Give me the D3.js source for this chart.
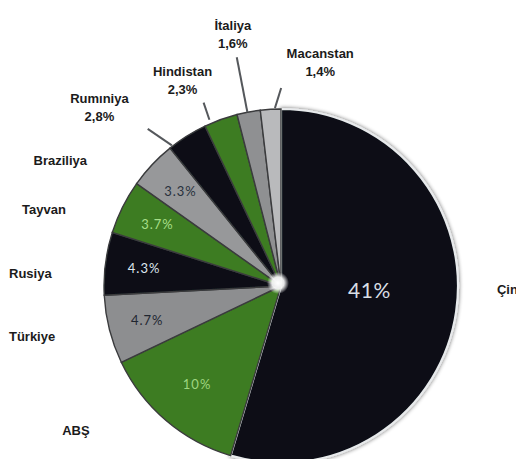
<!DOCTYPE html>
<html><head><meta charset="utf-8">
<script src="https://cdn.jsdelivr.net/npm/d3@7/dist/d3.min.js"></script>
<style>html,body{margin:0;padding:0;background:#fff;overflow:hidden}</style>
</head><body>
<script>
const categories = ["Çin","ABŞ","Türkiye","Rusiya","Tayvan","Braziliya","Rumıniya","Hindistan","İtaliya","Macanstan"];
const values = [41,10,4.7,4.3,3.7,3.3,2.8,2.3,1.6,1.4];
const insideLabelled = ["Çin","ABŞ","Türkiye","Rusiya","Tayvan","Braziliya"];
const outsideWithValue = ["Rumıniya","Hindistan","İtaliya","Macanstan"];

const W = 528, H = 459, cx = 281, cy = 286, R = 177;
const data = categories.map((c,i)=>({name:c, value:values[i]}));

const svg = d3.select("body").append("svg").attr("width",W).attr("height",H);
const defs = svg.append("defs");
const sh = defs.append("filter").attr("id","sh").attr("x","-20%").attr("y","-20%").attr("width","140%").attr("height","140%");
sh.append("feGaussianBlur").attr("in","SourceAlpha").attr("stdDeviation",2.2).attr("result","b");
sh.append("feComponentTransfer").attr("in","b").attr("result","o2").append("feFuncA").attr("type","linear").attr("slope",0.6);
const m = sh.append("feMerge"); m.append("feMergeNode").attr("in","o2"); m.append("feMergeNode").attr("in","SourceGraphic");
const soft = defs.append("filter").attr("id","soft");
soft.append("feGaussianBlur").attr("stdDeviation",0.5);
const rg = defs.append("radialGradient").attr("id","glow");
rg.append("stop").attr("offset","0%").attr("stop-color","#fff").attr("stop-opacity",1);
rg.append("stop").attr("offset","55%").attr("stop-color","#fff").attr("stop-opacity",0.9);
rg.append("stop").attr("offset","100%").attr("stop-color","#fff").attr("stop-opacity",0);
defs.append("clipPath").attr("id","edge").append("rect").attr("x",0).attr("y",0).attr("width",516).attr("height",H);

const color = d3.scaleOrdinal().domain(categories)
  .range(["#080d15","#3e7b22","#8d8e90","#0a0f17","#3e7b22","#97989a","#0a0f17","#3e7b22","#8f9092","#b9babc"]);
const inColor = d3.scaleOrdinal().domain(insideLabelled)
  .range(["#d9dfe5","#9fd680","#1f2630","#dde5ee","#a7df88","#28313d"]);

const pie = d3.pie().sort(null).value(d=>d.value);
const arcs = pie(data);
const arc = d3.arc().innerRadius(0).outerRadius(R);

const root = svg.append("g").attr("clip-path","url(#edge)");
const g = root.append("g").attr("transform",`translate(${cx},${cy})`);
g.selectAll("path.s").data(arcs).join("path").attr("class","s")
  .attr("d",arc).attr("fill",d=>color(d.data.name))
  .attr("stroke",d=>d.data.name==="Çin"?"#e8eaec":"#3a3b3d")
  .attr("stroke-width",d=>d.data.name==="Çin"?2.2:1.4)
  .attr("filter",d=>d.data.name==="Çin"?"url(#sh)":"url(#soft)");
g.append("circle").attr("r",11).attr("cx",-3).attr("cy",-3).attr("fill","url(#glow)");

const deg = Math.PI/180;
const mid = d=>(d.startAngle+d.endAngle)/2;
const pt = (a,r)=>[Math.sin(a)*r, -Math.cos(a)*r];

// inside labels
const inRadius = {"Çin":0.5, "ABŞ":0.73};
g.selectAll("text.in").data(arcs.filter(d=>insideLabelled.includes(d.data.name))).join("text")
  .attr("class","in")
  .attr("transform",d=>{const [x,y]=pt(mid(d)+(d.data.name==="Çin"?-6*deg:0), R*(inRadius[d.data.name]||0.78)); return `translate(${x},${y})`;})
  .attr("text-anchor","middle").attr("dominant-baseline","central")
  .attr("font-family","Lato, 'Open Sans', sans-serif")
  .attr("font-size",d=>d.data.name==="Çin"?21:13)
  .attr("letter-spacing",d=>d.data.name==="Çin"?0.5:1)
  .attr("fill",d=>inColor(d.data.name))
  .text(d=>d3.format("~g")(d.data.value)+"%");

// outer labels layout (angle offset from slice middle in degrees, radius)
const outer = {
  "Çin":[-7.5,227], "ABŞ":[14.3,251], "Türkiye":[2.8,254], "Rusiya":[-4.5,251],
  "Tayvan":[-8.6,249], "Braziliya":[-13.6,254], "Rumıniya":[-13.3,255],
  "Hindistan":[-5.7,228], "İtaliya":[-0.3,256], "Macanstan":[13.3,227]
};
const ol = g.selectAll("g.ol").data(arcs).join("g").attr("class","ol")
  .attr("transform",d=>{const o=outer[d.data.name]; const [x,y]=pt(mid(d)+o[0]*deg,o[1]); return `translate(${x},${y})`;});
ol.each(function(d){
  const two = outsideWithValue.includes(d.data.name);
  const t = d3.select(this).append("text").attr("text-anchor",d.data.name==="Çin"?"start":"middle")
    .attr("x",d.data.name==="Çin"?-11:0)
    .attr("font-family","'Liberation Sans', Arial, sans-serif").attr("font-weight","bold")
    .attr("font-size",13).attr("fill","#1b1b1b");
  if(two){
    t.append("tspan").attr("x",0).attr("y",-9).attr("dominant-baseline","central").text(d.data.name);
    t.append("tspan").attr("x",0).attr("y",9).attr("dominant-baseline","central").text(String(d.data.value).replace(".",",")+"%");
  } else {
    t.attr("dominant-baseline","central").text(d.data.name);
  }
});

// leader lines: [angle offset start, r start, angle offset end, r end]
const leaders = {
  "Rumıniya":[-5.7,178,-8.2,206], "Hindistan":[-3.4,181,-3.0,199],
  "İtaliya":[-0.4,177,-0.4,233], "Macanstan":[1.4,178,3.4,198]
};
g.selectAll("line.ld").data(arcs.filter(d=>leaders[d.data.name])).join("line").attr("class","ld")
  .each(function(d){
    const L=leaders[d.data.name];
    const [x1,y1]=pt(mid(d)+L[0]*deg,L[1]); const [x2,y2]=pt(mid(d)+L[2]*deg,L[3]);
    d3.select(this).attr("x1",x1).attr("y1",y1).attr("x2",x2).attr("y2",y2);
  })
  .attr("stroke","#55585c").attr("stroke-width",2);
</script>
</body></html>
